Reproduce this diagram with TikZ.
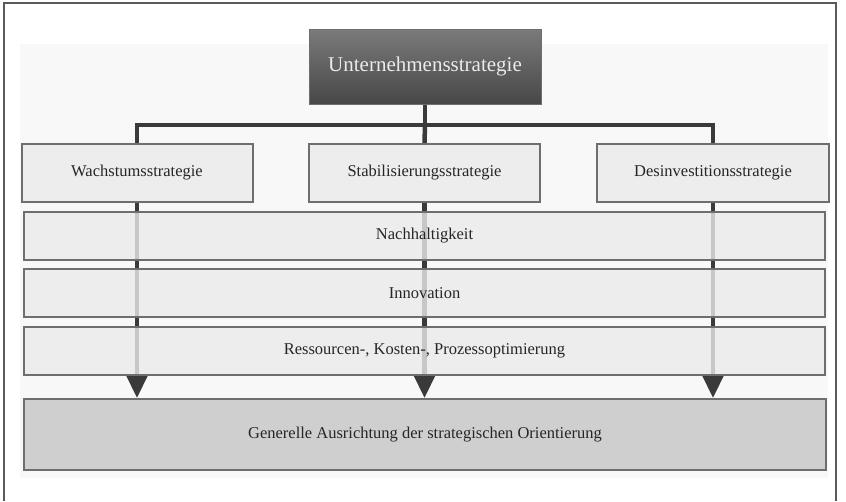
\documentclass[tikz,border=0pt]{standalone}
\usepackage{fontspec}
\setmainfont{Liberation Serif}
\usetikzlibrary{arrows.meta,backgrounds,calc}
\definecolor{frameC}{HTML}{5A5A5A}
\definecolor{boxFill}{HTML}{EBEBEB}
\definecolor{boxLine}{HTML}{6E6E6E}
\definecolor{darkLine}{HTML}{3A3A3A}
\definecolor{genFill}{HTML}{CFCFCF}
\definecolor{bgC}{HTML}{F8F8F8}
\tikzset{
  x=1pt, y=-1pt,
  stratbox/.style={draw=boxLine, line width=2pt, fill=boxFill, fill opacity=0.8, text opacity=1,
     inner sep=0pt, font=\fontsize{16.5}{19}\selectfont, text=black!85},
  topbox/.style={draw=boxLine, line width=1pt, top color=black!52, bottom color=black!72,
     inner sep=0pt, font=\fontsize{21}{24}\selectfont, text=white!92!black},
  conn/.style={draw=darkLine, line width=4.5pt},
  arr/.style={draw=darkLine, line width=4.5pt, -{Triangle[width=21pt,length=23pt]}},
}
\begin{document}
\begin{tikzpicture}
\useasboundingbox (0,0) rectangle (846,501);
% frame
\draw[frameC, line width=1.4pt] (4,501) -- (4,3) -- (836,3) -- (836,501);
% nodes
\node[topbox, minimum width=232pt, minimum height=75pt] (top) at (425,66.5) {Unternehmensstrategie};
\node[stratbox, minimum width=231pt, minimum height=58pt] (w) at (137,173) {Wachstumsstrategie};
\node[stratbox, minimum width=231pt, minimum height=58pt] (s) at (424.5,173) {Stabilisierungsstrategie};
\node[stratbox, minimum width=232pt, minimum height=58pt] (d) at (713,173) {Desinvestitionsstrategie};
\node[stratbox, minimum width=801pt, minimum height=48pt] (n) at (424.5,235.5) {Nachhaltigkeit};
\node[stratbox, minimum width=801pt, minimum height=48pt] (i) at (424.5,293) {Innovation};
\node[stratbox, minimum width=801pt, minimum height=48pt] (r) at (424.5,351) {Ressourcen-, Kosten-, Prozessoptimierung};
\node[stratbox, fill=genFill, fill opacity=1, minimum width=802pt, minimum height=71pt] (g) at (425,434.5) {Generelle Ausrichtung der strategischen Orientierung};
\begin{pgfonlayer}{background}
  \fill[bgC] (20,44) rectangle (828,478);
  \coordinate (j) at ($(top.south)+(0,20.5)$);
  \draw[conn] (top.south) -- (j);
  \draw[conn] (j) -| (w.north);
  \draw[conn] (j) -| (d.north);
  \draw[conn] (j) -- (s.north);
  \draw[arr] (w.south) -- (w.south |- g.north);
  \draw[arr] (s.south) -- (s.south |- g.north);
  \draw[arr] (d.south) -- (d.south |- g.north);
\end{pgfonlayer}
\end{tikzpicture}
\end{document}
